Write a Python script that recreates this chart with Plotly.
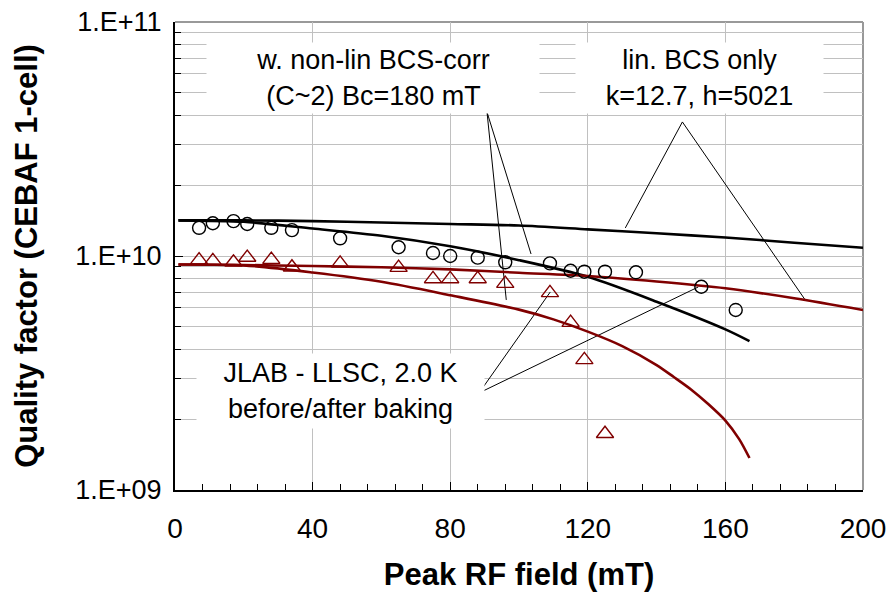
import plotly.graph_objects as go

# ---------------- data ----------------
# measured points (peak RF field in mT, quality factor)
field_before = [7, 11, 17, 21, 28, 34, 48, 65, 75, 80, 88, 96, 109, 115, 119, 125]
q_before = [9.6e9, 9.53e9, 9.4e9, 9.85e9, 9.65e9, 8.95e9, 9.3e9, 8.92e9, 7.98e9, 7.98e9,
            7.98e9, 7.62e9, 6.96e9, 5.19e9, 3.6e9, 1.74e9]

field_after = [7, 11, 17, 21, 28, 34, 48, 65, 75, 80, 88, 96, 109, 115, 119, 125, 134, 153, 163]
q_after = [1.32e10, 1.38e10, 1.41e10, 1.37e10, 1.32e10, 1.29e10, 1.19e10, 1.09e10, 1.03e10,
           1.0e10, 9.84e9, 9.4e9, 9.3e9, 8.65e9, 8.57e9, 8.57e9, 8.52e9, 7.39e9, 5.88e9]

# model curves
field_lin = [1, 20, 40, 60, 80, 100, 120, 140, 160, 180, 200]
q_lin_after = [1.42e10, 1.42e10, 1.41e10, 1.39e10, 1.37e10, 1.35e10, 1.30e10, 1.25e10,
               1.20e10, 1.14e10, 1.085e10]
q_lin_before = [9.2e9, 9.15e9, 9.06e9, 8.95e9, 8.77e9, 8.48e9, 8.21e9, 7.78e9, 7.28e9,
                6.6e9, 5.88e9]

field_nonlin_after = [1, 20, 40, 60, 80, 100, 120, 140, 160, 167]
q_nonlin_after = [1.42e10, 1.40e10, 1.31e10, 1.22e10, 1.10e10, 9.6e9, 8.15e9,
                  6.38e9, 4.86e9, 4.33e9]

field_nonlin_before = [1, 20, 40, 60, 80, 100, 110, 120, 130, 140, 145, 150, 155, 160,
                       164, 167]
q_nonlin_before = [9.2e9, 9.12e9, 8.5e9, 7.76e9, 6.8e9, 5.9e9, 5.36e9, 4.75e9, 4.12e9,
                   3.42e9, 3.04e9, 2.69e9, 2.33e9, 1.98e9, 1.65e9, 1.37e9]

# leader lines of the labels (end, apex, end)
lead_nonlin_x = [96.3, 90.7, 103.5]
lead_nonlin_y = [6.49e9, 4.12e10, 1.02e10]
lead_lin_x = [130.9, 147.5, 183.2]
lead_lin_y = [1.318e10, 3.74e10, 6.49e9]
lead_jlab_x = [109.1, 88.4, 152.1]
lead_jlab_y = [7.02e9, 2.60e9, 7.37e9]

x_ticks = [0, 40, 80, 120, 160, 200]
y_tickvals = [1e9, 1e10, 1e11]
y_ticktext = ["1.E+09", "1.E+10", "1.E+11"]
y_minor = [m * 10 ** e for e in (9, 10) for m in range(2, 10)]

BLACK = "#000000"
RED = "#800000"
GRID = "#c0c0c0"
FONT = "Liberation Sans, Arial, sans-serif"

fig = go.Figure()

for lx, ly in [(lead_nonlin_x, lead_nonlin_y), (lead_lin_x, lead_lin_y), (lead_jlab_x, lead_jlab_y)]:
    fig.add_trace(go.Scatter(x=lx, y=ly, mode="lines", line=dict(color=BLACK, width=1),
                             showlegend=False, hoverinfo="skip"))

spline = dict(width=2.6, shape="spline", smoothing=0.8)
fig.add_trace(go.Scatter(x=field_lin, y=q_lin_after, mode="lines", name="lin. BCS (after)",
                         line=dict(color=BLACK, **spline)))
fig.add_trace(go.Scatter(x=field_nonlin_after, y=q_nonlin_after, mode="lines",
                         name="non-lin BCS (after)", line=dict(color=BLACK, **spline)))
fig.add_trace(go.Scatter(x=field_lin, y=q_lin_before, mode="lines", name="lin. BCS (before)",
                         line=dict(color=RED, **spline)))
fig.add_trace(go.Scatter(x=field_nonlin_before, y=q_nonlin_before, mode="lines",
                         name="non-lin BCS (before)", line=dict(color=RED, **spline)))

fig.add_trace(go.Scatter(x=field_after, y=q_after, mode="markers", name="after baking",
                         marker=dict(symbol="circle-open", size=13, color=BLACK,
                                     line=dict(width=1.4, color=BLACK))))
fig.add_trace(go.Scatter(x=field_before, y=q_before, mode="markers", name="before baking",
                         marker=dict(symbol="triangle-up-open", size=15, color=RED,
                                     line=dict(width=1.4, color=RED))))

# gray frame on top and right
fig.add_shape(type="line", xref="paper", yref="paper", x0=0, x1=1, y0=1, y1=1,
              line=dict(color="#999999", width=2), layer="below")
fig.add_shape(type="line", xref="paper", yref="paper", x0=1, x1=1, y0=0, y1=1,
              line=dict(color="#999999", width=2), layer="below")

ann_font = dict(family=FONT, size=27, color=BLACK)
fig.add_annotation(x=57.6, y=10.761, xref="x", yref="y",
                   text="w. non-lin BCS-corr<br>(C~2) Bc=180 mT", showarrow=False,
                   font=ann_font, bgcolor="white", width=330, height=68)
fig.add_annotation(x=152.4, y=10.761, xref="x", yref="y",
                   text="lin. BCS only<br>k=12.7, h=5021", showarrow=False,
                   font=ann_font, bgcolor="white", width=245, height=68)
fig.add_annotation(x=48.0, y=9.423, xref="x", yref="y",
                   text="JLAB - LLSC, 2.0 K<br>before/after baking", showarrow=False,
                   font=ann_font, bgcolor="white", width=285, height=72)

fig.update_layout(
    width=892, height=596,
    margin=dict(l=175, r=29, t=22, b=106, autoexpand=False),
    paper_bgcolor="white", plot_bgcolor="white",
    showlegend=False,
    font=dict(family=FONT, color=BLACK),
    xaxis=dict(
        range=[0, 200], tickvals=x_ticks, ticks="inside", ticklen=8, tickwidth=1.3,
        tickcolor=BLACK, showline=True, linecolor=BLACK, linewidth=2,
        showgrid=True, gridcolor=GRID, gridwidth=1, zeroline=False,
        tickfont=dict(size=28, family=FONT), ticklabelstandoff=12,
        minor=dict(dtick=8, tick0=0, ticks="inside", ticklen=6, tickwidth=1.2,
                   tickcolor=BLACK, showgrid=False),
        title=dict(text="<b>Peak RF field (mT)</b>", font=dict(size=31, family=FONT),
                   standoff=21),
        automargin=False,
    ),
    yaxis=dict(
        type="log", range=[9, 11], tickvals=y_tickvals, ticktext=y_ticktext,
        ticks="inside", ticklen=8, tickwidth=1.3, tickcolor=BLACK,
        showline=True, linecolor=BLACK, linewidth=2,
        showgrid=True, gridcolor=GRID, gridwidth=1, zeroline=False,
        tickfont=dict(size=27, family=FONT), ticklabelstandoff=6,
        minor=dict(tickvals=y_minor, ticks="inside", ticklen=6, tickwidth=1.2,
                   tickcolor=BLACK, showgrid=True, gridcolor=GRID, gridwidth=1),
        title=dict(text="<b>Quality factor (CEBAF 1-cell)</b>",
                   font=dict(size=31, family=FONT), standoff=28),
        automargin=False,
    ),
)

fig.write_html("out.html")
